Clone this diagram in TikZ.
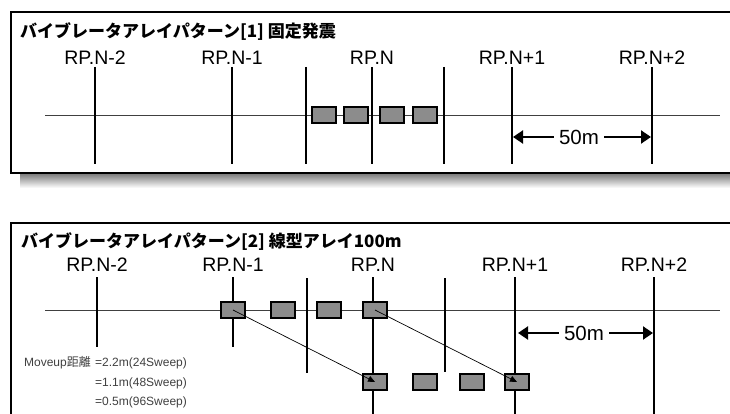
\documentclass[tikz,border=0pt]{standalone}
\usepackage{fontspec}
\setmainfont{Liberation Sans}
\newfontfamily\jpfont{Noto Sans CJK JP}
\usetikzlibrary{arrows.meta}
\begin{document}
\begin{tikzpicture}[x=1pt,y=-1pt,every node/.style={font=\fontsize{19.5}{22}\selectfont},
  rplabel/.style={anchor=base,inner sep=0pt},
  paneltitle/.style={anchor=base west,inner sep=0pt,font=\fontsize{17}{20}\selectfont\jpfont\bfseries},
  panelframe/.style={line width=2pt},
  shotline/.style={line width=1pt,black!75},
  rpline/.style={line width=2pt},
  vib/.style={draw,line width=1.5pt,fill=black!45,minimum width=24pt,minimum height=16pt,inner sep=0pt},
  dimlabel/.style={inner sep=5pt,font=\fontsize{20.5}{22}\selectfont},
  dimarrow/.style={line width=2pt,-{Triangle[length=10pt,width=13pt]}},
  movearrow/.style={line width=0.7pt,-{Triangle[length=7pt,width=6pt]}},
  movenote/.style={inner sep=0pt,text=black!75,font=\fontsize{12}{14}\selectfont}]
\useasboundingbox (0,0) rectangle (730,414);
% Panel 1: fixed sweep
\shade[top color=black!50,bottom color=white] (20,174) rectangle (730,188);
\fill[white] (11,12) rectangle (730,173);
\draw[panelframe] (730,12) -- (11,12) -- (11,173) -- (730,173);
\node[paneltitle] (t1) at (20,38) {バイブレータアレイパターン[1] 固定発震};
\node[rplabel] (l1a) at (95,65) {RP.N-2};
\node[rplabel] (l1b) at (232,65) {RP.N-1};
\node[rplabel] (l1c) at (372,65) {RP.N};
\node[rplabel] (l1d) at (512,65) {RP.N+1};
\node[rplabel] (l1e) at (652,65) {RP.N+2};
\draw[shotline] (45,116) -- (720,116);
\draw[rpline] (95,67) -- (95,164);
\draw[rpline] (232,67) -- (232,164);
\draw[rpline] (306,67) -- (306,164);
\draw[rpline] (372,67) -- (372,164);
\draw[rpline] (444,67) -- (444,164);
\draw[rpline] (512,67) -- (512,164);
\draw[rpline] (652,67) -- (652,164);
\node[vib] (a1) at (324,115) {};
\node[vib] (a2) at (356,115) {};
\node[vib] (a3) at (392,115) {};
\node[vib] (a4) at (425,115) {};
\coordinate (d1a) at (513,137);
\coordinate (d1b) at (651,137);
\node[dimlabel] (d1t) at (579,137) {50m};
\draw[dimarrow] (d1t) -- (d1a);
\draw[dimarrow] (d1t) -- (d1b);
% Panel 2: linear array 100m
\draw[panelframe] (730,223) -- (11,223) -- (11,415);
\node[paneltitle] (t2) at (21,247) {バイブレータアレイパターン[2] 線型アレイ100m};
\node[rplabel] (l2a) at (97,271) {RP.N-2};
\node[rplabel] (l2b) at (233,271) {RP.N-1};
\node[rplabel] (l2c) at (373,271) {RP.N};
\node[rplabel] (l2d) at (515,271) {RP.N+1};
\node[rplabel] (l2e) at (654,271) {RP.N+2};
\draw[shotline] (45,310) -- (720,310);
\draw[rpline] (97,277) -- (97,347);
\draw[rpline] (233,277) -- (233,347);
\draw[rpline] (307,278) -- (307,373);
\draw[rpline] (373,277) -- (373,415);
\draw[rpline] (445,278) -- (445,372);
\draw[rpline] (515,277) -- (515,415);
\draw[rpline] (654,277) -- (654,415);
\node[vib] (b1) at (233,310) {};
\node[vib] (b2) at (283,310) {};
\node[vib] (b3) at (329,310) {};
\node[vib] (b4) at (375,310) {};
\node[vib] (c1) at (375,382) {};
\node[vib] (c2) at (425,382) {};
\node[vib] (c3) at (472,382) {};
\node[vib] (c4) at (517,382) {};
\draw[movearrow] (b1.center) -- (c1.center);
\draw[movearrow] (b4.center) -- (c4.center);
\coordinate (d2a) at (518,333);
\coordinate (d2b) at (653,333);
\node[dimlabel] (d2t) at (584,333) {50m};
\draw[dimarrow] (d2t) -- (d2a);
\draw[dimarrow] (d2t) -- (d2b);
\node[movenote,anchor=base east] (m0) at (91,366) {Moveup\jpfont 距離};
\node[movenote,anchor=base west] (m1) at (95,366) {=2.2m(24Sweep)};
\node[movenote,anchor=base west] (m2) at (95,386) {=1.1m(48Sweep)};
\node[movenote,anchor=base west] (m3) at (95,405) {=0.5m(96Sweep)};
\end{tikzpicture}
\end{document}
